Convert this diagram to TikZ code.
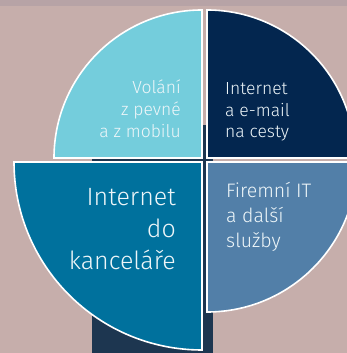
\documentclass[tikz,border=0pt]{standalone}
\usepackage{fontspec}
\setmainfont{Fira Sans Light}
\definecolor{bgc}{HTML}{C6AEAB}
\definecolor{bgtop}{HTML}{B7A3A6}
\definecolor{doorc}{HTML}{1D3650}
\definecolor{cyanq}{HTML}{74CDDC}
\definecolor{navyq}{HTML}{03264F}
\definecolor{tealq}{HTML}{00719D}
\definecolor{steelq}{HTML}{527FA8}
\definecolor{txt}{HTML}{EEF6F9}
\tikzset{
  seg/.style={draw=white, line width=1.6pt, line join=miter},
  lblS/.style={text=txt, inner sep=0pt, font=\fontsize{17.5}{20}\selectfont},
  lblM/.style={text=txt, inner sep=0pt, font=\fontsize{19.5}{22}\selectfont},
  lblL/.style={text=txt, inner sep=0pt, font=\fontsize{25}{28}\selectfont},
}
\begin{document}
\begin{tikzpicture}[x=1pt,y=1pt]
\useasboundingbox (0,0) rectangle (347,353);
\begin{scope}
\clip (0,0) rectangle (347,353);
\fill[bgc] (0,0) rectangle (347,353);
\fill[bgtop] (0,347) rectangle (347,353);
\fill[doorc] (92,0) rectangle (213,228);
% quadrants
\filldraw[seg, fill=cyanq] (202,195) -- (54,195) arc[start angle=180, end angle=90, radius=148pt] -- cycle;
\filldraw[seg, fill=navyq] (207,195) -- (207,343) arc[start angle=90, end angle=0, radius=148pt] -- cycle;
\filldraw[seg, fill=tealq] (202,191) -- (202,3) arc[start angle=270, end angle=180, radius=188pt] -- cycle;
\filldraw[seg, fill=steelq] (207,191) -- (357,191) arc[start angle=0, end angle=-90, radius=150pt] -- cycle;
\end{scope}
% labels top-left
\node[lblS, anchor=base east] (v1) at (181,259) {Volání};
\node[lblS, anchor=base east] (v2) at (181,237) {z pevné};
\node[lblS, anchor=base east] (v3) at (181,215) {a z mobilu};
% labels top-right
\node[lblS, anchor=base west] (i1) at (225,258) {Internet};
\node[lblS, anchor=base west] (i2) at (225,236) {a e-mail};
\node[lblS, anchor=base west] (i3) at (225,215) {na cesty};
% labels bottom-right
\node[lblM, anchor=base west] (f1) at (226,155) {Firemní IT};
\node[lblM, anchor=base west] (f2) at (226,130) {a další};
\node[lblM, anchor=base west] (f3) at (226,105) {služby};
% labels bottom-left
\node[lblL, anchor=base east] (k1) at (176,147) {Internet};
\node[lblL, anchor=base east] (k2) at (176,115) {do};
\node[lblL, anchor=base east] (k3) at (176,83) {kanceláře};
\end{tikzpicture}
\end{document}
